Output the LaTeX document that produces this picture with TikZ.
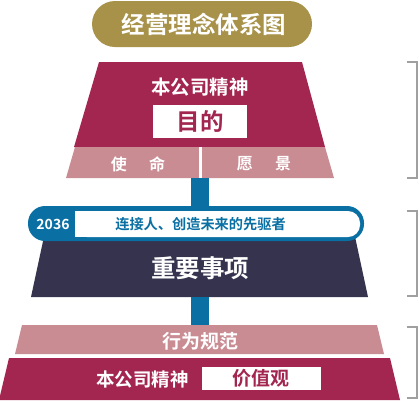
\documentclass[tikz,border=0pt]{standalone}
\usepackage{fontspec}
\setmainfont{Noto Sans CJK SC}[BoldFont={Noto Sans CJK SC Bold}]
\definecolor{gold}{HTML}{A8924A}
\definecolor{mag}{HTML}{A2264F}
\definecolor{pinkc}{HTML}{C98C93}
\definecolor{bluec}{HTML}{0A70A3}
\definecolor{darkc}{HTML}{35334D}
\definecolor{grayc}{HTML}{A0A0A0}
\tikzset{
  wt/.style={text=white,font=\bfseries,inner sep=0pt},
  bracketline/.style={draw=grayc,line width=2pt},
}
\begin{document}
\begin{tikzpicture}[x=1pt,y=-1pt]
\useasboundingbox (0,0) rectangle (419,400);
% title
\fill[gold,rounded corners=23pt] (92,1) rectangle (312,47);
\node[wt,font=\fontsize{23.5}{25}\selectfont\bfseries] (title) at (204,24) {经营理念体系图};
% top trapezoid
\fill[mag] (99,62) -- (302,62) -- (325,147) -- (74,147) -- cycle;
\node[wt,font=\fontsize{19.5}{21}\selectfont\bfseries] (spirit1) at (200,87) {本公司精神};
\fill[white] (153,105) rectangle (247,138);
\node[text=mag,font=\fontsize{23.5}{25}\selectfont\bfseries,inner sep=0pt] (purpose) at (200,121.5) {目的};
% pink band
\fill[pinkc] (75,147) -- (325,147) -- (334,178) -- (66,178) -- cycle;
\fill[white] (198.5,147) rectangle (201.5,178);
\node[wt,font=\fontsize{16}{18}\selectfont\bfseries] (mission) at (138,164) {使\hspace{1.4em}命};
\node[wt,font=\fontsize{16}{18}\selectfont\bfseries] (vision) at (264,164) {愿\hspace{1.4em}景};
% stem 1
\fill[bluec] (191,178) rectangle (209,208);
% dark trapezoid
\fill[darkc] (45,232) -- (354,232) -- (368,297) -- (31,297) -- cycle;
\node[wt,font=\fontsize{24.5}{26}\selectfont\bfseries] (key) at (200,268) {重要事项};
% blue bar
\fill[bluec,rounded corners=17pt] (28,206) rectangle (364,241);
\fill[white,rounded corners=12pt] (75,211) rectangle (360,237);
\fill[white] (75,211) rectangle (100,237);
\node[wt,font=\fontsize{14}{16}\selectfont\bfseries] (year) at (53,224) {2036};
\node[text=bluec,font=\fontsize{14.2}{16}\selectfont\bfseries,inner sep=0pt] (vis2036) at (200.5,224) {连接人、创造未来的先驱者};
% stem 2
\fill[bluec] (191,297) rectangle (209,326);
% pink trapezoid
\fill[pinkc] (22,325) -- (377,325) -- (384,354) -- (15,354) -- cycle;
\node[wt,font=\fontsize{19}{21}\selectfont\bfseries] (conduct) at (200,341) {行为规范};
% bottom magenta
\fill[mag] (9,358) -- (390,358) -- (400,400) -- (-1,400) -- cycle;
\node[wt,font=\fontsize{18.5}{20}\selectfont\bfseries] (spirit2) at (142.5,379) {本公司精神};
\fill[white] (202,367) rectangle (321,390);
\node[text=mag,font=\fontsize{19}{21}\selectfont\bfseries,inner sep=0pt] (values) at (261,378.5) {价值观};
% brackets
\coordinate (b1a) at (407,62); \coordinate (b1b) at (407,178);
\coordinate (b2a) at (407,211); \coordinate (b2b) at (407,296);
\coordinate (b3a) at (407,327); \coordinate (b3b) at (407,398);
\draw[bracketline] (b1a) -- ++(10,0) |- (b1b);
\draw[bracketline] (b2a) -- ++(10,0) |- (b2b);
\draw[bracketline] (b3a) -- ++(10,0) |- (b3b);
\end{tikzpicture}
\end{document}
